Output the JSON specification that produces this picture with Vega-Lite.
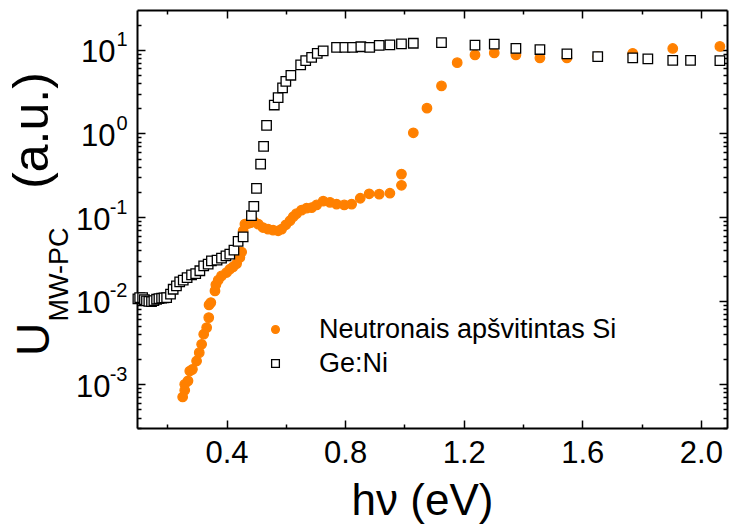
{
  "$schema": "https://vega.github.io/schema/vega-lite/v6.json",
  "width": 590,
  "height": 418,
  "autosize": {"type": "none"},
  "padding": {"left": 137, "top": 10, "right": 2, "bottom": 97},
  "config": {
    "view": {"stroke": null},
    "font": "Liberation Sans",
    "axis": {"grid": false, "domainColor": "black", "domainWidth": 2, "tickColor": "black", "tickWidth": 1.5, "labelColor": "black", "titleColor": "black", "labelFont": "Liberation Sans", "titleFont": "Liberation Sans", "titleFontWeight": "normal", "labelFlush": false, "labelOverlap": false}
  },
  "data": {"values": [
    {"series": "Neutronais apšvitintas Si", "hv": 0.252, "u": 0.000705},
    {"series": "Neutronais apšvitintas Si", "hv": 0.259, "u": 0.000848},
    {"series": "Neutronais apšvitintas Si", "hv": 0.259, "u": 0.00100},
    {"series": "Neutronais apšvitintas Si", "hv": 0.270, "u": 0.00110},
    {"series": "Neutronais apšvitintas Si", "hv": 0.276, "u": 0.00144},
    {"series": "Neutronais apšvitintas Si", "hv": 0.285, "u": 0.00151},
    {"series": "Neutronais apšvitintas Si", "hv": 0.299, "u": 0.00190},
    {"series": "Neutronais apšvitintas Si", "hv": 0.308, "u": 0.00239},
    {"series": "Neutronais apšvitintas Si", "hv": 0.316, "u": 0.00301},
    {"series": "Neutronais apšvitintas Si", "hv": 0.323, "u": 0.00397},
    {"series": "Neutronais apšvitintas Si", "hv": 0.333, "u": 0.00477},
    {"series": "Neutronais apšvitintas Si", "hv": 0.340, "u": 0.00628},
    {"series": "Neutronais apšvitintas Si", "hv": 0.341, "u": 0.00891},
    {"series": "Neutronais apšvitintas Si", "hv": 0.347, "u": 0.00949},
    {"series": "Neutronais apšvitintas Si", "hv": 0.361, "u": 0.0131},
    {"series": "Neutronais apšvitintas Si", "hv": 0.364, "u": 0.0155},
    {"series": "Neutronais apšvitintas Si", "hv": 0.372, "u": 0.0176},
    {"series": "Neutronais apšvitintas Si", "hv": 0.383, "u": 0.0198},
    {"series": "Neutronais apšvitintas Si", "hv": 0.400, "u": 0.0217},
    {"series": "Neutronais apšvitintas Si", "hv": 0.411, "u": 0.0238},
    {"series": "Neutronais apšvitintas Si", "hv": 0.422, "u": 0.0254},
    {"series": "Neutronais apšvitintas Si", "hv": 0.434, "u": 0.0278},
    {"series": "Neutronais apšvitintas Si", "hv": 0.445, "u": 0.0328},
    {"series": "Neutronais apšvitintas Si", "hv": 0.451, "u": 0.0382},
    {"series": "Neutronais apšvitintas Si", "hv": 0.456, "u": 0.0686},
    {"series": "Neutronais apšvitintas Si", "hv": 0.462, "u": 0.0824},
    {"series": "Neutronais apšvitintas Si", "hv": 0.473, "u": 0.0838},
    {"series": "Neutronais apšvitintas Si", "hv": 0.482, "u": 0.0860},
    {"series": "Neutronais apšvitintas Si", "hv": 0.492, "u": 0.0885},
    {"series": "Neutronais apšvitintas Si", "hv": 0.507, "u": 0.0824},
    {"series": "Neutronais apšvitintas Si", "hv": 0.523, "u": 0.0750},
    {"series": "Neutronais apšvitintas Si", "hv": 0.540, "u": 0.0718},
    {"series": "Neutronais apšvitintas Si", "hv": 0.557, "u": 0.0698},
    {"series": "Neutronais apšvitintas Si", "hv": 0.574, "u": 0.0686},
    {"series": "Neutronais apšvitintas Si", "hv": 0.586, "u": 0.0718},
    {"series": "Neutronais apšvitintas Si", "hv": 0.600, "u": 0.0809},
    {"series": "Neutronais apšvitintas Si", "hv": 0.614, "u": 0.0904},
    {"series": "Neutronais apšvitintas Si", "hv": 0.625, "u": 0.101},
    {"series": "Neutronais apšvitintas Si", "hv": 0.636, "u": 0.110},
    {"series": "Neutronais apšvitintas Si", "hv": 0.653, "u": 0.121},
    {"series": "Neutronais apšvitintas Si", "hv": 0.670, "u": 0.128},
    {"series": "Neutronais apšvitintas Si", "hv": 0.687, "u": 0.130},
    {"series": "Neutronais apšvitintas Si", "hv": 0.704, "u": 0.140},
    {"series": "Neutronais apšvitintas Si", "hv": 0.726, "u": 0.155},
    {"series": "Neutronais apšvitintas Si", "hv": 0.749, "u": 0.150},
    {"series": "Neutronais apšvitintas Si", "hv": 0.771, "u": 0.143},
    {"series": "Neutronais apšvitintas Si", "hv": 0.797, "u": 0.140},
    {"series": "Neutronais apšvitintas Si", "hv": 0.822, "u": 0.143},
    {"series": "Neutronais apšvitintas Si", "hv": 0.851, "u": 0.168},
    {"series": "Neutronais apšvitintas Si", "hv": 0.881, "u": 0.190},
    {"series": "Neutronais apšvitintas Si", "hv": 0.915, "u": 0.188},
    {"series": "Neutronais apšvitintas Si", "hv": 0.951, "u": 0.193},
    {"series": "Neutronais apšvitintas Si", "hv": 0.990, "u": 0.240},
    {"series": "Neutronais apšvitintas Si", "hv": 0.990, "u": 0.327},
    {"series": "Neutronais apšvitintas Si", "hv": 1.030, "u": 1.02},
    {"series": "Neutronais apšvitintas Si", "hv": 1.076, "u": 2.01},
    {"series": "Neutronais apšvitintas Si", "hv": 1.125, "u": 3.71},
    {"series": "Neutronais apšvitintas Si", "hv": 1.178, "u": 7.04},
    {"series": "Neutronais apšvitintas Si", "hv": 1.238, "u": 8.71},
    {"series": "Neutronais apšvitintas Si", "hv": 1.303, "u": 9.21},
    {"series": "Neutronais apšvitintas Si", "hv": 1.376, "u": 8.71},
    {"series": "Neutronais apšvitintas Si", "hv": 1.457, "u": 8.02},
    {"series": "Neutronais apšvitintas Si", "hv": 1.548, "u": 8.02},
    {"series": "Neutronais apšvitintas Si", "hv": 1.652, "u": 8.31},
    {"series": "Neutronais apšvitintas Si", "hv": 1.770, "u": 9.10},
    {"series": "Neutronais apšvitintas Si", "hv": 1.905, "u": 10.4},
    {"series": "Neutronais apšvitintas Si", "hv": 2.064, "u": 11.0},
    {"series": "Ge:Ni", "hv": 0.101, "u": 0.0105},
    {"series": "Ge:Ni", "hv": 0.107, "u": 0.0109},
    {"series": "Ge:Ni", "hv": 0.117, "u": 0.0109},
    {"series": "Ge:Ni", "hv": 0.123, "u": 0.0103},
    {"series": "Ge:Ni", "hv": 0.130, "u": 0.00995},
    {"series": "Ge:Ni", "hv": 0.138, "u": 0.0098},
    {"series": "Ge:Ni", "hv": 0.147, "u": 0.00976},
    {"series": "Ge:Ni", "hv": 0.155, "u": 0.0100},
    {"series": "Ge:Ni", "hv": 0.164, "u": 0.0104},
    {"series": "Ge:Ni", "hv": 0.172, "u": 0.0106},
    {"series": "Ge:Ni", "hv": 0.181, "u": 0.0107},
    {"series": "Ge:Ni", "hv": 0.189, "u": 0.0108},
    {"series": "Ge:Ni", "hv": 0.198, "u": 0.0109},
    {"series": "Ge:Ni", "hv": 0.211, "u": 0.0120},
    {"series": "Ge:Ni", "hv": 0.220, "u": 0.0137},
    {"series": "Ge:Ni", "hv": 0.231, "u": 0.0150},
    {"series": "Ge:Ni", "hv": 0.242, "u": 0.0168},
    {"series": "Ge:Ni", "hv": 0.254, "u": 0.0176},
    {"series": "Ge:Ni", "hv": 0.267, "u": 0.0189},
    {"series": "Ge:Ni", "hv": 0.282, "u": 0.0204},
    {"series": "Ge:Ni", "hv": 0.296, "u": 0.0211},
    {"series": "Ge:Ni", "hv": 0.310, "u": 0.0228},
    {"series": "Ge:Ni", "hv": 0.323, "u": 0.0261},
    {"series": "Ge:Ni", "hv": 0.338, "u": 0.0274},
    {"series": "Ge:Ni", "hv": 0.349, "u": 0.0300},
    {"series": "Ge:Ni", "hv": 0.368, "u": 0.0306},
    {"series": "Ge:Ni", "hv": 0.383, "u": 0.0323},
    {"series": "Ge:Ni", "hv": 0.398, "u": 0.0344},
    {"series": "Ge:Ni", "hv": 0.411, "u": 0.0361},
    {"series": "Ge:Ni", "hv": 0.425, "u": 0.0403},
    {"series": "Ge:Ni", "hv": 0.439, "u": 0.0511},
    {"series": "Ge:Ni", "hv": 0.456, "u": 0.0581},
    {"series": "Ge:Ni", "hv": 0.484, "u": 0.104},
    {"series": "Ge:Ni", "hv": 0.492, "u": 0.134},
    {"series": "Ge:Ni", "hv": 0.501, "u": 0.221},
    {"series": "Ge:Ni", "hv": 0.515, "u": 0.431},
    {"series": "Ge:Ni", "hv": 0.525, "u": 0.702},
    {"series": "Ge:Ni", "hv": 0.535, "u": 1.25},
    {"series": "Ge:Ni", "hv": 0.561, "u": 2.19},
    {"series": "Ge:Ni", "hv": 0.574, "u": 2.68},
    {"series": "Ge:Ni", "hv": 0.589, "u": 3.51},
    {"series": "Ge:Ni", "hv": 0.600, "u": 4.21},
    {"series": "Ge:Ni", "hv": 0.617, "u": 4.97},
    {"series": "Ge:Ni", "hv": 0.650, "u": 6.61},
    {"series": "Ge:Ni", "hv": 0.667, "u": 7.44},
    {"series": "Ge:Ni", "hv": 0.687, "u": 8.15},
    {"series": "Ge:Ni", "hv": 0.706, "u": 9.10},
    {"series": "Ge:Ni", "hv": 0.726, "u": 9.72},
    {"series": "Ge:Ni", "hv": 0.771, "u": 10.7},
    {"series": "Ge:Ni", "hv": 0.799, "u": 10.7},
    {"series": "Ge:Ni", "hv": 0.825, "u": 10.7},
    {"series": "Ge:Ni", "hv": 0.853, "u": 10.9},
    {"series": "Ge:Ni", "hv": 0.883, "u": 10.7},
    {"series": "Ge:Ni", "hv": 0.915, "u": 11.3},
    {"series": "Ge:Ni", "hv": 0.951, "u": 11.5},
    {"series": "Ge:Ni", "hv": 0.990, "u": 11.8},
    {"series": "Ge:Ni", "hv": 1.030, "u": 12.0},
    {"series": "Ge:Ni", "hv": 1.125, "u": 12.2},
    {"series": "Ge:Ni", "hv": 1.238, "u": 11.4},
    {"series": "Ge:Ni", "hv": 1.303, "u": 11.7},
    {"series": "Ge:Ni", "hv": 1.376, "u": 10.4},
    {"series": "Ge:Ni", "hv": 1.457, "u": 10.1},
    {"series": "Ge:Ni", "hv": 1.548, "u": 8.96},
    {"series": "Ge:Ni", "hv": 1.652, "u": 8.31},
    {"series": "Ge:Ni", "hv": 1.770, "u": 8.02},
    {"series": "Ge:Ni", "hv": 1.821, "u": 7.80},
    {"series": "Ge:Ni", "hv": 1.905, "u": 7.50},
    {"series": "Ge:Ni", "hv": 1.965, "u": 7.50},
    {"series": "Ge:Ni", "hv": 2.064, "u": 7.45}
  ]},
  "layer": [
    {
      "mark": {"type": "point", "size": 90, "strokeWidth": 1.3, "opacity": 1},
      "encoding": {
        "x": {"field": "hv", "type": "quantitative",
          "scale": {"domain": [0.098, 2.088], "nice": false, "zero": false},
          "axis": {"orient": "bottom", "title": "hν (eV)",
            "values": [0.2, 0.4, 0.6, 0.8, 1.0, 1.2, 1.4, 1.6, 1.8, 2.0],
            "tickSize": {"condition": {"test": "abs(datum.value*2.5-round(datum.value*2.5))<0.01", "value": -8}, "value": -4},
            "labelExpr": "abs(datum.value*2.5-round(datum.value*2.5))<0.01 ? format(datum.value, '.1f') : ''",
            "labelFontSize": 31, "labelPadding": 42, "labelBaseline": "alphabetic",
            "titleFontSize": 44, "titleX": 285, "titleY": 86, "titleBaseline": "alphabetic", "titleAlign": "center"}},
        "y": {"field": "u", "type": "quantitative",
          "scale": {"type": "log", "domain": [0.0003, 30], "nice": false},
          "axis": {"orient": "left", "title": "U",
            "values": [0.0003,0.0004,0.0005,0.0006,0.0007,0.0008,0.0009,0.001,0.002,0.003,0.004,0.005,0.006,0.007,0.008,0.009,0.01,0.02,0.03,0.04,0.05,0.06,0.07,0.08,0.09,0.1,0.2,0.3,0.4,0.5,0.6,0.7,0.8,0.9,1,2,3,4,5,6,7,8,9,10,20],
            "tickSize": {"condition": {"test": "abs(log(datum.value)/LN10-round(log(datum.value)/LN10))<0.001", "value": -8}, "value": -4},
            "labelExpr": "abs(log(datum.value)/LN10-round(log(datum.value)/LN10))<0.001 ? '10' : ''",
            "labelFontSize": 31, "labelAlign": "right", "labelBaseline": "middle", "labelOffset": 3,
            "labelPadding": {"condition": {"test": "datum.value > 0.5", "value": 30}, "value": 35},
            "titleFontSize": 46, "titleAngle": -90, "titleX": -89, "titleY": 329, "titleBaseline": "alphabetic", "titleAlign": "center"}},
        "fill": {"field": "series", "type": "nominal",
          "scale": {"domain": ["Neutronais apšvitintas Si", "Ge:Ni"], "range": ["#ff8000", "white"]},
          "legend": {"title": null, "orient": "none", "legendX": 125, "legendY": 306, "labelFont": "Liberation Sans", "labelFontSize": 27, "labelColor": "black", "labelLimit": 0, "symbolSize": 60, "symbolStrokeWidth": 1.3, "labelOffset": 30, "rowPadding": 6, "padding": 0}},
        "stroke": {"field": "series", "type": "nominal",
          "scale": {"domain": ["Neutronais apšvitintas Si", "Ge:Ni"], "range": ["#ff8000", "black"]},
          "legend": {"title": null, "orient": "none", "legendX": 125, "legendY": 306, "labelFont": "Liberation Sans", "labelFontSize": 27, "labelColor": "black", "labelLimit": 0, "symbolSize": 60, "symbolStrokeWidth": 1.3, "labelOffset": 30, "rowPadding": 6, "padding": 0}},
        "shape": {"field": "series", "type": "nominal",
          "scale": {"domain": ["Neutronais apšvitintas Si", "Ge:Ni"], "range": ["circle", "square"]},
          "legend": {"title": null, "orient": "none", "legendX": 125, "legendY": 306, "labelFont": "Liberation Sans", "labelFontSize": 27, "labelColor": "black", "labelLimit": 0, "symbolSize": 60, "symbolStrokeWidth": 1.3, "labelOffset": 30, "rowPadding": 6, "padding": 0}}
      }
    },
    {
      "mark": {"type": "point", "opacity": 0},
      "encoding": {
        "x": {"field": "hv", "type": "quantitative",
          "scale": {"domain": [0.098, 2.088], "nice": false, "zero": false},
          "axis": {"orient": "top", "title": null, "labels": false,
            "values": [0.2, 0.4, 0.6, 0.8, 1.0, 1.2, 1.4, 1.6, 1.8, 2.0],
            "tickSize": {"condition": {"test": "abs(datum.value*2.5-round(datum.value*2.5))<0.01", "value": -8}, "value": -4}}},
        "y": {"field": "u", "type": "quantitative",
          "scale": {"type": "log", "domain": [0.0003, 30], "nice": false},
          "axis": {"orient": "right", "title": null, "labels": false,
            "values": [0.0003,0.0004,0.0005,0.0006,0.0007,0.0008,0.0009,0.001,0.002,0.003,0.004,0.005,0.006,0.007,0.008,0.009,0.01,0.02,0.03,0.04,0.05,0.06,0.07,0.08,0.09,0.1,0.2,0.3,0.4,0.5,0.6,0.7,0.8,0.9,1,2,3,4,5,6,7,8,9,10,20],
            "tickSize": {"condition": {"test": "abs(log(datum.value)/LN10-round(log(datum.value)/LN10))<0.001", "value": -8}, "value": -4}}}
      }
    },
    {
      "mark": {"type": "point", "opacity": 0},
      "encoding": {
        "x": {"field": "hv", "type": "quantitative",
          "scale": {"domain": [0.098, 2.088], "nice": false, "zero": false}, "axis": null},
        "y": {"field": "u", "type": "quantitative",
          "scale": {"type": "log", "domain": [0.0003, 30], "nice": false},
          "axis": {"orient": "left", "ticks": false, "domain": false,
            "values": [0.001, 0.01, 0.1, 1, 10],
            "labelExpr": "'' + round(log(datum.value)/LN10)",
            "labelFontSize": 20, "labelAlign": "right", "labelBaseline": "middle", "labelPadding": 10, "labelOffset": -10,
            "title": "MW-PC", "titleFontSize": 27, "titleAngle": -90, "titleX": -70, "titleY": 264, "titleBaseline": "alphabetic", "titleAlign": "center"}}
      }
    },
    {
      "mark": {"type": "point", "opacity": 0},
      "encoding": {
        "x": {"field": "hv", "type": "quantitative",
          "scale": {"domain": [0.098, 2.088], "nice": false, "zero": false}, "axis": null},
        "y": {"field": "u", "type": "quantitative",
          "scale": {"type": "log", "domain": [0.0003, 30], "nice": false},
          "axis": {"orient": "left", "ticks": false, "domain": false, "labels": false,
            "title": "(a.u.)", "titleFontSize": 50, "titleAngle": -90, "titleX": -90, "titleY": 120, "titleBaseline": "alphabetic", "titleAlign": "center"}}
      }
    }
  ],
  "resolve": {"scale": {"x": "independent", "y": "independent"}, "axis": {"x": "independent", "y": "independent"}}
}
